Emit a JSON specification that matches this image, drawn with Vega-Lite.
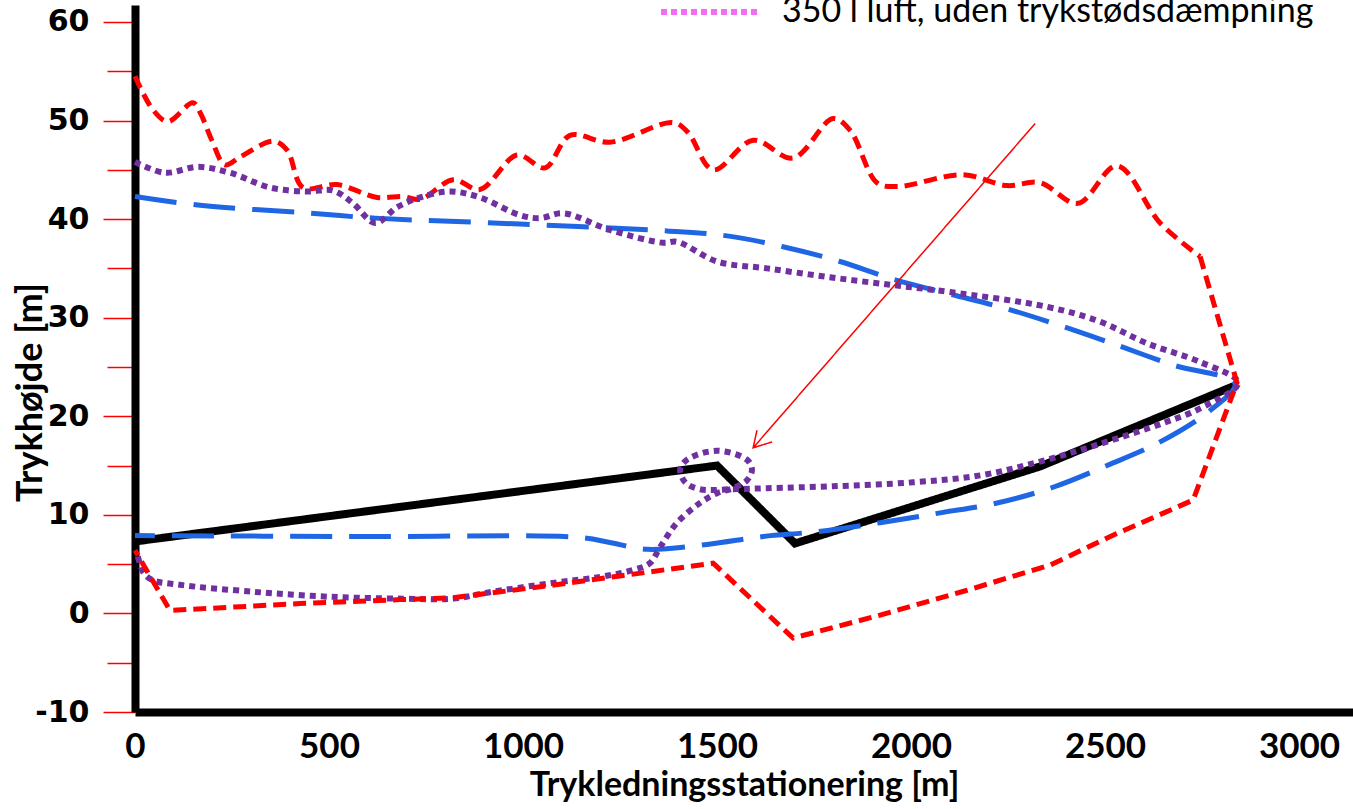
{
  "$schema": "https://vega.github.io/schema/vega-lite/v6.json",
  "width": 1218,
  "height": 707,
  "autosize": {"type": "none"},
  "padding": {"left": 135, "top": 5, "right": 0, "bottom": 97},
  "background": "white",
  "config": {"view": {"stroke": null}},
  "data": {"values": [
    {"s": "Ledningsprofil", "i": 0, "x": 0, "y": 7.3},
    {"s": "Ledningsprofil", "i": 1, "x": 1500, "y": 15.0},
    {"s": "Ledningsprofil", "i": 2, "x": 1701, "y": 7.1},
    {"s": "Ledningsprofil", "i": 3, "x": 2332, "y": 14.9},
    {"s": "Ledningsprofil", "i": 4, "x": 2840, "y": 23.2},

    {"s": "Uden luft", "i": 0, "x": 0, "y": 54.5},
    {"s": "Uden luft", "i": 1, "x": 46, "y": 51.1},
    {"s": "Uden luft", "i": 2, "x": 85, "y": 49.9},
    {"s": "Uden luft", "i": 3, "x": 149, "y": 51.8},
    {"s": "Uden luft", "i": 4, "x": 168, "y": 50.8},
    {"s": "Uden luft", "i": 5, "x": 198, "y": 48.0},
    {"s": "Uden luft", "i": 6, "x": 232, "y": 45.5},
    {"s": "Uden luft", "i": 7, "x": 271, "y": 46.3},
    {"s": "Uden luft", "i": 8, "x": 356, "y": 47.9},
    {"s": "Uden luft", "i": 9, "x": 392, "y": 47.0},
    {"s": "Uden luft", "i": 10, "x": 433, "y": 43.2},
    {"s": "Uden luft", "i": 11, "x": 521, "y": 43.5},
    {"s": "Uden luft", "i": 12, "x": 624, "y": 42.2},
    {"s": "Uden luft", "i": 13, "x": 691, "y": 42.3},
    {"s": "Uden luft", "i": 14, "x": 735, "y": 42.0},
    {"s": "Uden luft", "i": 15, "x": 820, "y": 44.0},
    {"s": "Uden luft", "i": 16, "x": 889, "y": 43.0},
    {"s": "Uden luft", "i": 17, "x": 985, "y": 46.5},
    {"s": "Uden luft", "i": 18, "x": 1057, "y": 45.2},
    {"s": "Uden luft", "i": 19, "x": 1121, "y": 48.5},
    {"s": "Uden luft", "i": 20, "x": 1224, "y": 47.8},
    {"s": "Uden luft", "i": 21, "x": 1387, "y": 49.8},
    {"s": "Uden luft", "i": 22, "x": 1425, "y": 48.8},
    {"s": "Uden luft", "i": 23, "x": 1490, "y": 45.0},
    {"s": "Uden luft", "i": 24, "x": 1593, "y": 48.0},
    {"s": "Uden luft", "i": 25, "x": 1696, "y": 46.2},
    {"s": "Uden luft", "i": 26, "x": 1799, "y": 50.2},
    {"s": "Uden luft", "i": 27, "x": 1843, "y": 49.0},
    {"s": "Uden luft", "i": 28, "x": 1912, "y": 43.7},
    {"s": "Uden luft", "i": 29, "x": 1964, "y": 43.3},
    {"s": "Uden luft", "i": 30, "x": 2134, "y": 44.5},
    {"s": "Uden luft", "i": 31, "x": 2247, "y": 43.4},
    {"s": "Uden luft", "i": 32, "x": 2332, "y": 43.7},
    {"s": "Uden luft", "i": 33, "x": 2430, "y": 41.6},
    {"s": "Uden luft", "i": 34, "x": 2531, "y": 45.4},
    {"s": "Uden luft", "i": 35, "x": 2642, "y": 39.6},
    {"s": "Uden luft", "i": 36, "x": 2745, "y": 36.2},
    {"s": "Uden luft", "i": 37, "x": 2840, "y": 23.4},
    {"s": "Uden luft", "i": 38, "x": 2727, "y": 11.5},
    {"s": "Uden luft", "i": 39, "x": 2530, "y": 8.1},
    {"s": "Uden luft", "i": 40, "x": 2358, "y": 4.9},
    {"s": "Uden luft", "i": 41, "x": 2140, "y": 2.3},
    {"s": "Uden luft", "i": 42, "x": 1918, "y": -0.2},
    {"s": "Uden luft", "i": 43, "x": 1696, "y": -2.5},
    {"s": "Uden luft", "i": 44, "x": 1490, "y": 5.1},
    {"s": "Uden luft", "i": 45, "x": 1250, "y": 3.8},
    {"s": "Uden luft", "i": 46, "x": 1044, "y": 2.7},
    {"s": "Uden luft", "i": 47, "x": 820, "y": 1.6},
    {"s": "Uden luft", "i": 48, "x": 683, "y": 1.4},
    {"s": "Uden luft", "i": 49, "x": 425, "y": 1.0},
    {"s": "Uden luft", "i": 50, "x": 90, "y": 0.3},
    {"s": "Uden luft", "i": 51, "x": 0, "y": 6.4},

    {"s": "Med trykstødsdæmpning", "i": 0, "x": 0, "y": 42.3},
    {"s": "Med trykstødsdæmpning", "i": 1, "x": 168, "y": 41.4},
    {"s": "Med trykstødsdæmpning", "i": 2, "x": 451, "y": 40.6},
    {"s": "Med trykstødsdæmpning", "i": 3, "x": 619, "y": 40.1},
    {"s": "Med trykstødsdæmpning", "i": 4, "x": 992, "y": 39.5},
    {"s": "Med trykstødsdæmpning", "i": 5, "x": 1371, "y": 38.8},
    {"s": "Med trykstødsdæmpning", "i": 6, "x": 1526, "y": 38.3},
    {"s": "Med trykstødsdæmpning", "i": 7, "x": 1670, "y": 37.2},
    {"s": "Med trykstødsdæmpning", "i": 8, "x": 1817, "y": 35.7},
    {"s": "Med trykstødsdæmpning", "i": 9, "x": 1954, "y": 33.9},
    {"s": "Med trykstødsdæmpning", "i": 10, "x": 2100, "y": 32.4},
    {"s": "Med trykstødsdæmpning", "i": 11, "x": 2247, "y": 30.9},
    {"s": "Med trykstødsdæmpning", "i": 12, "x": 2392, "y": 29.1},
    {"s": "Med trykstødsdæmpning", "i": 13, "x": 2539, "y": 27.1},
    {"s": "Med trykstødsdæmpning", "i": 14, "x": 2675, "y": 25.2},
    {"s": "Med trykstødsdæmpning", "i": 15, "x": 2835, "y": 23.3},
    {"s": "Med trykstødsdæmpning", "i": 16, "x": 2771, "y": 20.6},
    {"s": "Med trykstødsdæmpning", "i": 17, "x": 2642, "y": 17.4},
    {"s": "Med trykstødsdæmpning", "i": 18, "x": 2505, "y": 15.0},
    {"s": "Med trykstødsdæmpning", "i": 19, "x": 2366, "y": 12.8},
    {"s": "Med trykstødsdæmpning", "i": 20, "x": 2222, "y": 11.2},
    {"s": "Med trykstødsdæmpning", "i": 21, "x": 2075, "y": 10.2},
    {"s": "Med trykstødsdæmpning", "i": 22, "x": 1920, "y": 9.2},
    {"s": "Med trykstødsdæmpning", "i": 23, "x": 1758, "y": 8.3},
    {"s": "Med trykstødsdæmpning", "i": 24, "x": 1619, "y": 7.8},
    {"s": "Med trykstødsdæmpning", "i": 25, "x": 1474, "y": 7.0},
    {"s": "Med trykstødsdæmpning", "i": 26, "x": 1320, "y": 6.5},
    {"s": "Med trykstødsdæmpning", "i": 27, "x": 1224, "y": 7.2},
    {"s": "Med trykstødsdæmpning", "i": 28, "x": 1147, "y": 7.7},
    {"s": "Med trykstødsdæmpning", "i": 29, "x": 554, "y": 7.8},
    {"s": "Med trykstødsdæmpning", "i": 30, "x": 0, "y": 7.9},

    {"s": "350 l luft", "i": 0, "x": 0, "y": 45.8},
    {"s": "350 l luft", "i": 1, "x": 77, "y": 44.7},
    {"s": "350 l luft", "i": 2, "x": 162, "y": 45.3},
    {"s": "350 l luft", "i": 3, "x": 245, "y": 44.7},
    {"s": "350 l luft", "i": 4, "x": 348, "y": 43.2},
    {"s": "350 l luft", "i": 5, "x": 443, "y": 42.8},
    {"s": "350 l luft", "i": 6, "x": 510, "y": 42.9},
    {"s": "350 l luft", "i": 7, "x": 562, "y": 41.6},
    {"s": "350 l luft", "i": 8, "x": 619, "y": 39.6},
    {"s": "350 l luft", "i": 9, "x": 675, "y": 41.2},
    {"s": "350 l luft", "i": 10, "x": 735, "y": 42.2},
    {"s": "350 l luft", "i": 11, "x": 812, "y": 42.8},
    {"s": "350 l luft", "i": 12, "x": 889, "y": 42.2},
    {"s": "350 l luft", "i": 13, "x": 992, "y": 40.4},
    {"s": "350 l luft", "i": 14, "x": 1044, "y": 40.1},
    {"s": "350 l luft", "i": 15, "x": 1103, "y": 40.6},
    {"s": "350 l luft", "i": 16, "x": 1224, "y": 38.9},
    {"s": "350 l luft", "i": 17, "x": 1361, "y": 37.6},
    {"s": "350 l luft", "i": 18, "x": 1397, "y": 37.7},
    {"s": "350 l luft", "i": 19, "x": 1500, "y": 35.7},
    {"s": "350 l luft", "i": 20, "x": 1629, "y": 35.0},
    {"s": "350 l luft", "i": 21, "x": 1791, "y": 34.1},
    {"s": "350 l luft", "i": 22, "x": 1954, "y": 33.3},
    {"s": "350 l luft", "i": 23, "x": 2100, "y": 32.6},
    {"s": "350 l luft", "i": 24, "x": 2351, "y": 31.1},
    {"s": "350 l luft", "i": 25, "x": 2487, "y": 29.6},
    {"s": "350 l luft", "i": 26, "x": 2608, "y": 27.4},
    {"s": "350 l luft", "i": 27, "x": 2745, "y": 25.5},
    {"s": "350 l luft", "i": 28, "x": 2843, "y": 23.4},
    {"s": "350 l luft", "i": 29, "x": 2745, "y": 20.8},
    {"s": "350 l luft", "i": 30, "x": 2649, "y": 19.3},
    {"s": "350 l luft", "i": 31, "x": 2479, "y": 17.1},
    {"s": "350 l luft", "i": 32, "x": 2332, "y": 15.4},
    {"s": "350 l luft", "i": 33, "x": 2178, "y": 14.0},
    {"s": "350 l luft", "i": 34, "x": 2005, "y": 13.3},
    {"s": "350 l luft", "i": 35, "x": 1799, "y": 12.9},
    {"s": "350 l luft", "i": 36, "x": 1629, "y": 12.7},
    {"s": "350 l luft", "i": 37, "x": 1541, "y": 12.6},
    {"s": "350 l luft", "i": 38, "x": 1456, "y": 12.6},
    {"s": "350 l luft", "i": 39, "x": 1418, "y": 13.3},
    {"s": "350 l luft", "i": 40, "x": 1405, "y": 14.6},
    {"s": "350 l luft", "i": 41, "x": 1423, "y": 15.6},
    {"s": "350 l luft", "i": 42, "x": 1500, "y": 16.5},
    {"s": "350 l luft", "i": 43, "x": 1577, "y": 15.6},
    {"s": "350 l luft", "i": 44, "x": 1590, "y": 14.6},
    {"s": "350 l luft", "i": 45, "x": 1577, "y": 13.5},
    {"s": "350 l luft", "i": 46, "x": 1541, "y": 12.7},
    {"s": "350 l luft", "i": 47, "x": 1500, "y": 12.2},
    {"s": "350 l luft", "i": 48, "x": 1456, "y": 11.2},
    {"s": "350 l luft", "i": 49, "x": 1397, "y": 9.2},
    {"s": "350 l luft", "i": 50, "x": 1353, "y": 6.7},
    {"s": "350 l luft", "i": 51, "x": 1327, "y": 5.1},
    {"s": "350 l luft", "i": 52, "x": 1283, "y": 4.4},
    {"s": "350 l luft", "i": 53, "x": 1198, "y": 3.7},
    {"s": "350 l luft", "i": 54, "x": 1077, "y": 3.1},
    {"s": "350 l luft", "i": 55, "x": 907, "y": 2.1},
    {"s": "350 l luft", "i": 56, "x": 820, "y": 1.5},
    {"s": "350 l luft", "i": 57, "x": 691, "y": 1.5},
    {"s": "350 l luft", "i": 58, "x": 495, "y": 1.7},
    {"s": "350 l luft", "i": 59, "x": 304, "y": 2.2},
    {"s": "350 l luft", "i": 60, "x": 116, "y": 2.9},
    {"s": "350 l luft", "i": 61, "x": 44, "y": 3.4},
    {"s": "350 l luft", "i": 62, "x": 21, "y": 4.2},
    {"s": "350 l luft", "i": 63, "x": 5, "y": 6.2},

    {"s": "Pil", "i": 0, "x": 2320, "y": 49.7},
    {"s": "Pil", "i": 1, "x": 1593, "y": 16.8},
    {"s": "Pil", "i": 2, "x": 1603, "y": 18.6},
    {"s": "Pil", "i": 3, "x": 1593, "y": 16.8},
    {"s": "Pil", "i": 4, "x": 1642, "y": 17.4}
  ]},
  "encoding": {
    "x": {
      "field": "x", "type": "quantitative",
      "scale": {"domain": [0, 3139], "nice": false, "zero": false},
      "axis": {
        "values": [0, 500, 1000, 1500, 2000, 2500, 3000],
        "format": "d",
        "grid": false, "ticks": false, "tickSize": 0,
        "domainColor": "black", "domainWidth": 8,
        "labelFont": "Lato", "labelFontWeight": "bold", "labelFontSize": 35, "labelColor": "black",
        "labelPadding": 17, "labelFlush": false, "labelOverlap": false,
        "title": "Trykledningsstationering [m]",
        "titleFont": "Lato", "titleFontWeight": "bold", "titleFontSize": 34, "titleColor": "black",
        "titlePadding": 4
      }
    },
    "y": {
      "field": "y", "type": "quantitative",
      "scale": {"domain": [-10, 61.72], "nice": false, "zero": false},
      "axis": {
        "values": [-10, -5, 0, 5, 10, 15, 20, 25, 30, 35, 40, 45, 50, 55, 60],
        "labelExpr": "datum.value % 10 === 0 ? '' + datum.value : ''",
        "grid": false,
        "domainColor": "black", "domainWidth": 8,
        "tickColor": "#FF0000", "tickWidth": 1.5,
        "tickSize": {"condition": {"test": "datum.value % 10 === 0", "value": 32}, "value": 28},
        "labelFont": "DejaVu Sans", "labelFontWeight": "bold", "labelFontSize": 30, "labelColor": "black",
        "labelPadding": 14, "labelFlush": false, "labelOverlap": false,
        "title": "Trykhøjde [m]",
        "titleFont": "Lato", "titleFontWeight": "bold", "titleFontSize": 36, "titleColor": "black",
        "titleAngle": -90, "titleX": -105, "titleY": 387, "titleAlign": "center", "titleBaseline": "middle"
      }
    },
    "order": {"field": "i", "type": "quantitative"},
    "color": {
      "field": "s", "type": "nominal",
      "scale": {
        "domain": ["Ledningsprofil", "Uden luft", "Med trykstødsdæmpning", "350 l luft", "350 l luft, uden trykstødsdæmpning", "Pil"],
        "range": ["#000000", "#FF0000", "#1F66E5", "#7030A0", "#F46BF4", "#FF0000"]
      },
      "legend": {
        "orient": "none", "legendX": 523, "legendY": -46, "padding": 0,
        "values": ["350 l luft, uden trykstødsdæmpning"],
        "title": null, "symbolType": "stroke", "symbolSize": 10000, "symbolStrokeWidth": 6,
        "labelFont": "Lato", "labelFontSize": 34, "labelColor": "black",
        "labelOffset": 18, "labelLimit": 0
      }
    },
    "strokeDash": {
      "field": "s", "type": "nominal",
      "scale": {
        "domain": ["Ledningsprofil", "Uden luft", "Med trykstødsdæmpning", "350 l luft", "350 l luft, uden trykstødsdæmpning", "Pil"],
        "range": [[1, 0], [13, 7], [42, 17], [6, 5], [6, 4], [1, 0]]
      },
      "legend": {
        "orient": "none", "legendX": 523, "legendY": -46, "padding": 0,
        "values": ["350 l luft, uden trykstødsdæmpning"],
        "title": null, "symbolType": "stroke", "symbolSize": 10000, "symbolStrokeWidth": 6,
        "labelFont": "Lato", "labelFontSize": 34, "labelColor": "black",
        "labelOffset": 18, "labelLimit": 0
      }
    }
  },
  "layer": [
    {
      "transform": [{"filter": "datum.s === 'Ledningsprofil'"}],
      "mark": {"type": "line", "strokeWidth": 8, "interpolate": "linear", "strokeJoin": "miter"}
    },
    {
      "transform": [{"filter": "(datum.s === 'Uden luft' && datum.i <= 36) || datum.s === 'Med trykstødsdæmpning' || datum.s === '350 l luft'"}],
      "mark": {"type": "line", "interpolate": "catmull-rom"},
      "encoding": {
        "strokeWidth": {"condition": {"test": "datum.s === '350 l luft'", "value": 6}, "value": 5}
      }
    },
    {
      "transform": [{"filter": "datum.s === 'Uden luft' && datum.i >= 36"}],
      "mark": {"type": "line", "interpolate": "linear", "strokeWidth": 5}
    },
    {
      "transform": [{"filter": "datum.s === 'Pil'"}],
      "mark": {"type": "line", "strokeWidth": 1.5, "interpolate": "linear"}
    }
  ]
}
